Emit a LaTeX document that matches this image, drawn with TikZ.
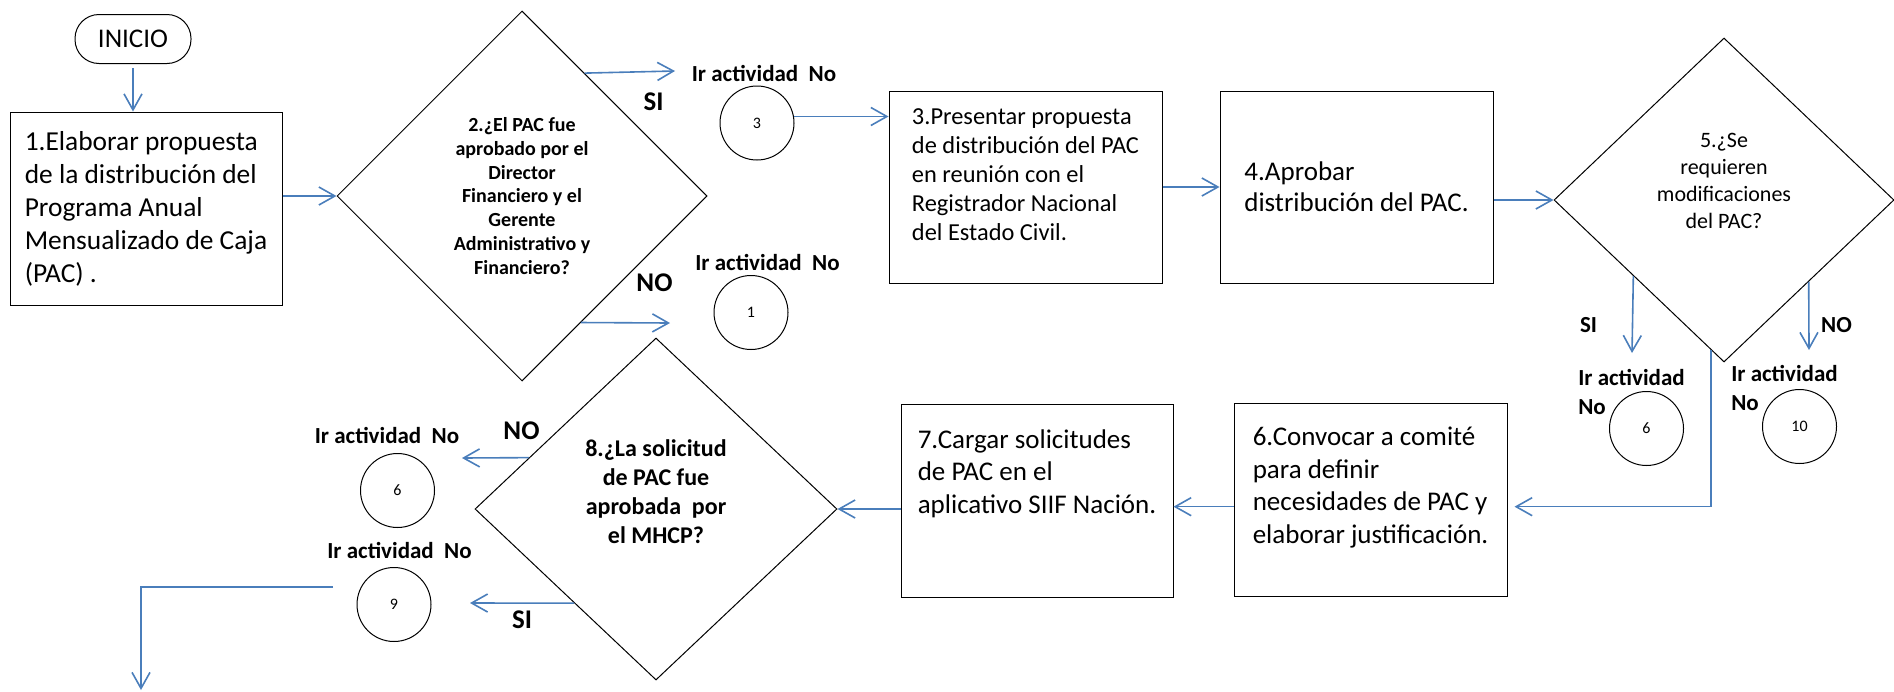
\documentclass[tikz,border=0pt]{standalone}
\usepackage{fontspec}
\setmainfont{Carlito}
\usetikzlibrary{shapes.geometric,arrows.meta}
\definecolor{flowblue}{HTML}{4A7EBB}

\begin{document}
\begin{tikzpicture}[x=1pt,y=-1pt,
	paso/.style={draw, line width=1pt, rectangle, minimum width=272pt, minimum height=193pt, align=left, inner sep=0pt},
	decision/.style={draw, line width=1pt, diamond, align=center, inner sep=0pt},
	conector/.style={draw, line width=1pt, circle, minimum size=74pt, inner sep=0pt, font=\fontsize{16}{19}\selectfont},
	ir/.style={inner sep=0pt, font=\fontsize{23}{29}\selectfont\bfseries},
	resp/.style={inner sep=0pt, font=\fontsize{27}{32}\selectfont\bfseries},
	flujo/.style={draw=flowblue, line width=1.6pt, -{Straight Barb[length=16pt,width=18pt]}}]
			\useasboundingbox (0,0) rectangle (1894,691);
			
			\node	(inicio) at (133,39) [draw, line width=1pt, rounded corners=24pt, minimum width=116pt, minimum height=49pt, font=\fontsize{27}{32}\selectfont] {INICIO};
			\node	(box1) at (146,208.5) [paso, font=\fontsize{27.4}{33}\selectfont] {1.Elaborar propuesta\\de la distribución del\\Programa Anual\\Mensualizado de Caja\\(PAC) .};
			\node	(dec2) at (522,196) [decision, minimum width=370pt, minimum height=370pt, font=\fontsize{20}{23.7}\selectfont\bfseries] {2.¿El PAC fue\\aprobado por el\\Director\\Financiero y el\\Gerente\\Administrativo y\\Financiero?};
			\node	(si2) at (653.5,102) [resp] {SI};
			\node	(no2) at (654.5,283) [resp] {NO};
			\node	(l3) at (764,73) [ir] {Ir actividad\ \ No};
			\node	(c3) at (757,123) [conector] {3};
			\node	(l1) at (767.5,262) [ir] {Ir actividad\ \ No};
			\node	(c1) at (751,312.5) [conector] {1};
			\coordinate (s2) at (675,71);
			\coordinate (n2) at (670,323);
			
			\node	(box3) at (1025.5,187) [paso, minimum width=273pt, minimum height=192pt, font=\fontsize{24.4}{29}\selectfont] {3.Presentar propuesta\\de distribución del PAC\\en reunión con el\\Registrador Nacional\\del Estado Civil.\\[-5pt]\mbox{}};
			\node	(box4) at (1356.5,187) [paso, minimum width=273pt, minimum height=192pt, font=\fontsize{27}{31}\selectfont] {4.Aprobar\\distribución del PAC.};
			\node	(dec5) at (1724,200) [decision, minimum width=340pt, minimum height=324pt, font=\fontsize{22}{27}\selectfont] {5.¿Se\\requieren\\modificaciones\\del PAC?\\[11pt]\mbox{}};
			\node	(si5) at (1588.5,325) [resp, font=\fontsize{23}{28}\selectfont\bfseries] {SI};
			\node	(no5) at (1836.5,325) [resp, font=\fontsize{23}{28}\selectfont\bfseries] {NO};
			\node	(l6a) at (1631.5,391.5) [ir, align=left] {Ir actividad\\No};
			\node	(c6a) at (1646.5,428.5) [conector] {6};
			\node	(l10) at (1784.5,387.5) [ir, align=left] {Ir actividad\\No};
			\node	(c10) at (1799.5,426.5) [conector] {10};
			\coordinate (s5) at (1632,353);
			\coordinate (n5) at (1809,350);
			
			\node	(box6) at (1370.5,499.5) [paso, minimum width=273pt, font=\fontsize{27}{32.5}\selectfont] {6.Convocar a comité\\para definir\\necesidades de PAC y\\elaborar justificación.\\[-4pt]\mbox{}};
			\node	(box7) at (1037,500.5) [paso, font=\fontsize{27}{32.5}\selectfont] {7.Cargar solicitudes\\de PAC en el\\aplicativo SIIF Nación.\\[26pt]\mbox{}};
			\node	(dec8) at (656,509) [decision, minimum width=362pt, minimum height=342pt, font=\fontsize{24}{29}\selectfont\bfseries] {8.¿La solicitud\\de PAC fue\\aprobada\ \ por\\el MHCP?\\[5pt]\mbox{}};
			\node	(no8) at (521.5,431) [resp] {NO};
			\node	(si8) at (522,620) [resp] {SI};
			\node	(l6b) at (387,435) [ir] {Ir actividad\ \ No};
			\node	(c6b) at (397.5,490.5) [conector] {6};
			\node	(l9) at (399.5,550) [ir] {Ir actividad\ \ No};
			\node	(c9) at (394,604.5) [conector] {9};
			\coordinate (n8) at (462,458);
			\coordinate (s8) at (470,603);
			\coordinate (e9) at (333,587);
			\coordinate (fin) at (141,690);
			
			\draw 
			(inicio.south) edge[flujo, shorten <=4pt] (inicio.south |- box1.north)
			(box1.east |- dec2.west) edge[flujo] (dec2.west)
			(dec2.63) edge[flujo] (s2)
			(dec2.-65) edge[flujo] (n2)
			(c3.10) edge[flujo] (c3.10 -| box3.west)
			(box3) edge[flujo] (box4)
			(box4.east |- dec5.west) edge[flujo] (dec5.west)
			(dec5.220) edge[flujo] (s5)
			(dec5.-44) edge[flujo] (n5)
			(box6.183) edge[flujo] (box6.183 -| box7.east)
			(box7.west |- dec8.east) edge[flujo] (dec8.east)
			(dec8.158) edge[flujo] (n8)
			(dec8.229) edge[flujo] (s8)
			;
			\draw[flujo, shorten >=7pt] (dec5.265) |- (box6.357);
			\draw[flujo] (e9) -| (fin);
		\end{tikzpicture}
\end{document}
